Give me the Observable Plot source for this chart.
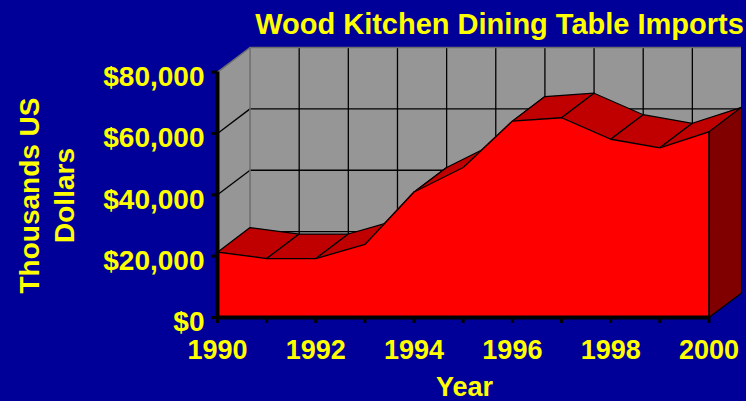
<!DOCTYPE html>
<html><head><meta charset="utf-8">
<script src="https://cdn.jsdelivr.net/npm/d3@7"></script>
<script src="https://cdn.jsdelivr.net/npm/@observablehq/plot@0.6"></script>
<style>
html,body{margin:0;padding:0;background:#000099;}
#chart{width:746px;height:401px;}
</style></head><body><div id="chart"></div>
<script>
// ---- data ----
const years = [1990, 1991, 1992, 1993, 1994, 1995, 1996, 1997, 1998, 1999, 2000];
const imports = [21300, 19200, 19200, 23800, 40900, 48900, 64000, 65100, 58100, 55300, 60500];
const yTicks = [0, 20000, 40000, 60000, 80000];
const xLabelYears = [1990, 1992, 1994, 1996, 1998, 2000];
const gridYears = [1991, 1992, 1993, 1994, 1995, 1996, 1997, 1998, 1999];
const gridValues = [20000, 40000, 60000];
const title = "Wood Kitchen Dining Table Imports";
const yTitle = "Thousands US\nDollars";
const xTitle = "Year";

// ---- 3D depth (in data units) ----
const DX = 0.662, DY = 8000;
const x0 = years[0], x1 = years[years.length - 1], yMax = yTicks[yTicks.length - 1];

const YELLOW = "#ffff00", GREY = "#969696", EDGE = "#6e6e6e";

const front = years.map((x, i) => ({x, y: imports[i]}));
const quads = [];
for (let i = 0; i < front.length - 1; i++) {
  const a = front[i], b = front[i + 1], id = i;
  quads.push({id, x: a.x, y: a.y}, {id, x: b.x, y: b.y},
             {id, x: b.x + DX, y: b.y + DY}, {id, x: a.x + DX, y: a.y + DY},
             {id, x: a.x, y: a.y});
}
const last = front[front.length - 1];
const side = [{x: x1, y: 0}, {x: x1, y: last.y}, {x: x1 + DX, y: last.y + DY}, {x: x1 + DX, y: DY}, {x: x1, y: 0}];
const leftWall = [{x: x0, y: 0}, {x: x0, y: yMax}, {x: x0 + DX, y: yMax + DY}, {x: x0 + DX, y: DY}, {x: x0, y: 0}];

const font = {fontWeight: "bold", fill: YELLOW};

const chart = Plot.plot({
  width: 746, height: 401,
  marginLeft: 217, marginRight: 5, marginTop: 47, marginBottom: 84,
  style: {background: "#000099", fontFamily: "'Liberation Sans', Arial, sans-serif", overflow: "visible"},
  x: {type: "linear", domain: [x0, x1 + DX]},
  y: {type: "linear", domain: [0, yMax + DY]},
  marks: [
    // back wall
    Plot.rect([0], {x1: () => x0 + DX, x2: () => x1 + DX, y1: () => DY, y2: () => yMax + DY, fill: GREY}),
    // left wall
    Plot.line(leftWall, {x: "x", y: "y", fill: GREY, stroke: "none"}),
    // back wall grid
    Plot.ruleX(gridYears, {x: d => d + DX, y1: () => DY, y2: () => yMax + DY, stroke: "black", strokeWidth: 1.3}),
    Plot.ruleY(gridValues, {y: d => d + DY, x1: () => x0 + DX, x2: () => x1 + DX, stroke: "black", strokeWidth: 1.3}),
    Plot.link(gridValues, {x1: () => x0, y1: d => d, x2: () => x0 + DX, y2: d => d + DY, stroke: "black", strokeWidth: 1.3}),
    // wall edges
    Plot.ruleX([x0 + DX], {y1: () => DY, y2: () => yMax + DY, stroke: EDGE, strokeWidth: 1.5}),
    Plot.ruleY([yMax + DY], {x1: () => x0 + DX, x2: () => x1 + DX, stroke: EDGE, strokeWidth: 1.5}),
    Plot.link([yMax], {x1: () => x0, y1: d => d, x2: () => x0 + DX, y2: d => d + DY, stroke: EDGE, strokeWidth: 1.5}),
    // top surface of the area
    Plot.line(quads, {x: "x", y: "y", z: "id", fill: "#c00000", stroke: "black", strokeWidth: 1.2, strokeLinejoin: "round"}),
    // right side face
    Plot.line(side, {x: "x", y: "y", fill: "#800000", stroke: "black", strokeWidth: 1.2}),
    // front face
    Plot.areaY(front, {x: "x", y: "y", fill: "#ff0000"}),
    Plot.lineY(front, {x: "x", y: "y", stroke: "black", strokeWidth: 1.3}),
    Plot.ruleX([x1], {y1: () => 0, y2: () => last.y, stroke: "black", strokeWidth: 1.3}),
    // axis lines
    Plot.ruleX([x0], {y1: () => 0, y2: () => yMax, stroke: "black", strokeWidth: 4}),
    Plot.ruleY([0], {x1: () => x0, x2: () => x1, stroke: "black", strokeWidth: 4}),
    // ticks
    Plot.axisY(yTicks, {anchor: "left", tickSize: 6, strokeWidth: 3, stroke: "black", tickFormat: () => "", label: null}),
    Plot.axisX(years, {anchor: "bottom", tickSize: 6, strokeWidth: 3, stroke: "black", tickFormat: () => "", label: null}),
    // tick labels
    Plot.axisY(yTicks, {anchor: "left", tickSize: 0, tickPadding: 13, dy: 5, tickFormat: d => "$" + d3.format(",")(d),
      fontSize: 28, ...font, label: null}),
    Plot.axisX(xLabelYears, {anchor: "bottom", tickSize: 0, tickPadding: 22, tickFormat: d => String(d),
      fontSize: 27, ...font, label: null}),
    // titles
    Plot.text([title], {frameAnchor: "top", dx: 20, dy: -23, lineAnchor: "middle", fontSize: 29, ...font}),
    Plot.text([yTitle], {frameAnchor: "left", rotate: -90, dx: -172, dy: 13, textAnchor: "middle", lineAnchor: "middle",
      lineHeight: 1.25, fontSize: 28, ...font}),
    Plot.text([xTitle], {frameAnchor: "bottom", dx: -15, dy: 70, lineAnchor: "middle", fontSize: 27, ...font})
  ]
});
document.getElementById("chart").appendChild(chart);
</script></body></html>
